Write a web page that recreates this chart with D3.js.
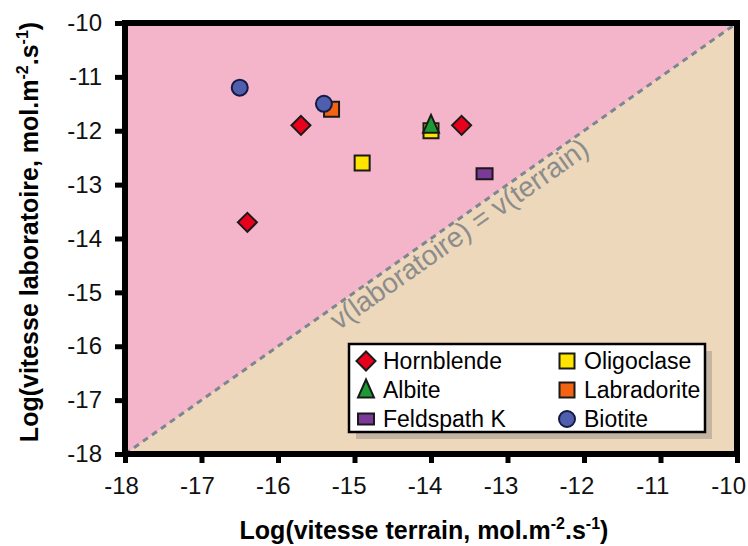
<!DOCTYPE html>
<html>
<head>
<meta charset="utf-8">
<title></title>
<style>
  body { margin: 0; background: #fff; }
  text { font-family: "Liberation Sans", Arial, sans-serif; }
</style>
</head>
<body>
<div id="chart"></div>
<script src="https://d3js.org/d3.v7.min.js"></script>
<script>
// data
const xTicks = [-18, -17, -16, -15, -14, -13, -12, -11, -10];
const yTicks = [-18, -17, -16, -15, -14, -13, -12, -11, -10];

const hornblendeX = [-15.7, -13.6, -16.4];
const hornblendeY = [-11.9, -11.9, -13.7];
const oligoclaseX = [-14.9, -14.0];
const oligoclaseY = [-12.6, -12.0];
const labradoriteX = [-15.3];
const labradoriteY = [-11.6];
const albiteX = [-14.0];
const albiteY = [-11.9];
const feldspathX = [-13.3];
const feldspathY = [-12.8];
const biotiteX = [-16.5, -15.4];
const biotiteY = [-11.2, -11.5];

const series = [
  { name: "Hornblende", shape: "diamond", fill: "#e8001c", xs: hornblendeX, ys: hornblendeY },
  { name: "Oligoclase", shape: "square", fill: "#ffe400", xs: oligoclaseX, ys: oligoclaseY },
  { name: "Labradorite", shape: "square", fill: "#f26411", xs: labradoriteX, ys: labradoriteY },
  { name: "Albite", shape: "triangle", fill: "#1e9a34", xs: albiteX, ys: albiteY },
  { name: "Feldspath K", shape: "rect", fill: "#7c3a98", xs: feldspathX, ys: feldspathY },
  { name: "Biotite", shape: "circle", fill: "#4f5fae", xs: biotiteX, ys: biotiteY }
];
const legendOrder = ["Hornblende", "Albite", "Feldspath K", "Oligoclase", "Labradorite", "Biotite"];

const W = 748, H = 546;
const m = { left: 125, top: 23, right: 11, bottom: 92 };
const w = W - m.left - m.right, h = H - m.top - m.bottom;

const svg = d3.select("#chart").append("svg")
  .attr("width", W).attr("height", H);

const x = d3.scaleLinear().domain([-18, -10]).range([0, w]);
const y = d3.scaleLinear().domain([-18, -10]).range([h, 0]);

const g = svg.append("g").attr("transform", `translate(${m.left},${m.top})`);

// background: pink above the 1:1 line, beige below
g.append("rect").attr("width", w).attr("height", h).attr("fill", "#eed8bb");
g.append("path")
  .attr("d", `M${x(-18)},${y(-18)} L${x(-18)},${y(-10)} L${x(-10)},${y(-10)} Z`)
  .attr("fill", "#f4b4ca");

// 1:1 line
g.append("line")
  .attr("x1", x(-18)).attr("y1", y(-18))
  .attr("x2", x(-10)).attr("y2", y(-10))
  .attr("stroke", "#7b8691").attr("stroke-width", 3)
  .attr("stroke-dasharray", "6,5");

const ang = Math.atan2(y(-10) - y(-18), x(-10) - x(-18)) * 180 / Math.PI;
g.append("text")
  .attr("transform", `translate(${x(-13.56)},${y(-13.56) + 27}) rotate(${ang})`)
  .attr("text-anchor", "middle")
  .attr("font-size", 28)
  .attr("fill", "#8c8c8c")
  .text("v(laboratoire) = v(terrain)");

function shapePath(shape) {
  if (shape === "diamond") return "M0,-9.5L9.5,0L0,9.5L-9.5,0Z";
  if (shape === "square") return "M-7.5,-7.5H7.5V7.5H-7.5Z";
  if (shape === "triangle") return "M0,-10.5L8,7.5H-8Z";
  if (shape === "rect") return "M-8,-5.5H8V5.5H-8Z";
  return d3.symbol(d3.symbolCircle, Math.PI * 8 * 8)();
}

series.forEach(s => {
  const pts = s.xs.map((v, i) => [v, s.ys[i]]);
  g.selectAll(null).data(pts).enter().append("path")
    .attr("transform", d => `translate(${x(d[0])},${y(d[1])})`)
    .attr("d", shapePath(s.shape))
    .attr("fill", s.fill)
    .attr("stroke", s.shape === "circle" ? "#151a45" : "#1a1a1a")
    .attr("stroke-width", 2);
});

// legend
const lg = g.append("g").attr("transform", `translate(${349 - m.left},${344 - m.top})`);
const lw = 356, lh = 88;
lg.append("rect").attr("x", 7).attr("y", 7).attr("width", lw).attr("height", lh)
  .attr("fill", "#b9ad9c").attr("opacity", 0.8);
lg.append("rect").attr("width", lw).attr("height", lh)
  .attr("fill", "#fff").attr("stroke", "#000").attr("stroke-width", 2.5);
legendOrder.forEach((name, i) => {
  const s = series.find(d => d.name === name);
  const col = Math.floor(i / 3), row = i % 3;
  const cx = 17 + col * 201, cy = 17 + row * 29;
  lg.append("path")
    .attr("transform", `translate(${cx},${cy})`)
    .attr("d", shapePath(s.shape))
    .attr("fill", s.fill)
    .attr("stroke", s.shape === "circle" ? "#151a45" : "#1a1a1a")
    .attr("stroke-width", 2);
  lg.append("text")
    .attr("x", cx + 17).attr("y", cy + 8)
    .attr("font-size", 23)
    .text(name);
});

// frame and axes
g.append("rect").attr("width", w).attr("height", h)
  .attr("fill", "none").attr("stroke", "#000").attr("stroke-width", 6);

const xAxis = g.append("g").attr("transform", `translate(0,${h})`)
  .call(d3.axisBottom(x).tickValues(xTicks).tickSize(9).tickPadding(14).tickFormat(d => String(d)));
const yAxis = g.append("g")
  .call(d3.axisLeft(y).tickValues(yTicks).tickSize(10).tickPadding(13).tickFormat(d => String(d)));
[xAxis, yAxis].forEach(a => {
  a.select(".domain").remove();
  a.selectAll("line").attr("stroke", "#000").attr("stroke-width", 5);
  a.selectAll("text").attr("font-size", 24).attr("fill", "#111")
    .attr("font-family", "Liberation Sans, Arial, sans-serif");
});
xAxis.selectAll("text").attr("dx", (d, i) => -4 - i * 0.6);

// axis titles
const xt = svg.append("text")
  .attr("x", 424).attr("y", 539)
  .attr("text-anchor", "middle").attr("font-size", 25).attr("font-weight", "bold");
xt.append("tspan").text("Log(vitesse terrain, mol.m");
xt.append("tspan").attr("dy", -10).attr("font-size", 16).text("-2");
xt.append("tspan").attr("dy", 10).text(".s");
xt.append("tspan").attr("dy", -10).attr("font-size", 16).text("-1");
xt.append("tspan").attr("dy", 10).text(")");

const yt = svg.append("text")
  .attr("transform", `translate(38,232) rotate(-90)`)
  .attr("text-anchor", "middle").attr("font-size", 25).attr("font-weight", "bold");
yt.append("tspan").text("Log(vitesse laboratoire, mol.m");
yt.append("tspan").attr("dy", -10).attr("font-size", 16).text("-2");
yt.append("tspan").attr("dy", 10).text(".s");
yt.append("tspan").attr("dy", -10).attr("font-size", 16).text("-1");
yt.append("tspan").attr("dy", 10).text(")");
</script>
</body>
</html>
